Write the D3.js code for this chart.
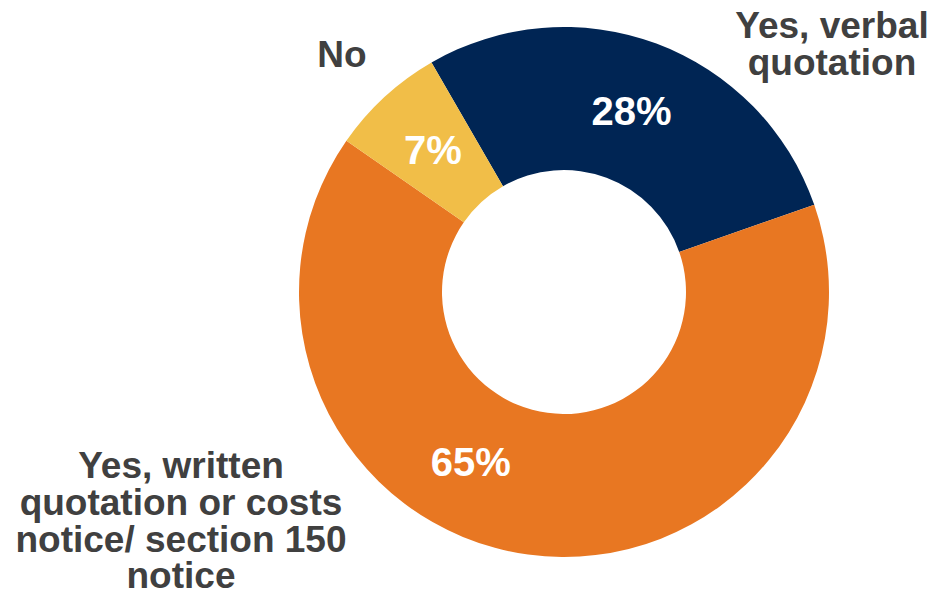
<!DOCTYPE html>
<html>
<head>
<meta charset="utf-8">
<script src="https://cdn.jsdelivr.net/npm/d3@7"></script>
<style>
  html, body { margin: 0; padding: 0; background: #ffffff; }
  svg { display: block; }
  text { font-family: "Liberation Sans", Arial, Helvetica, sans-serif; font-weight: bold; }
</style>
</head>
<body>
<svg id="chart" width="933" height="608"></svg>
<script>
// Survey answers, in drawing order (clockwise)
const categories = [
  "Yes, verbal quotation",
  "Yes, written quotation or costs notice/ section 150 notice",
  "No"
];
const shares = [28, 65, 7];
const valueLabels = ["28%", "65%", "7%"];
const colors = ["#002554", "#E87722", "#F1BE48"];

// Wrapped lines for each category name
const nameLines = [
  ["Yes, verbal", "quotation"],
  ["Yes, written", "quotation or costs", "notice/ section 150", "notice"],
  ["No"]
];

const width = 933, height = 608;
const cx = 564, cy = 292;
const outerR = 265, innerR = 122;
const deg = Math.PI / 180;

const svg = d3.select("#chart");
const g = svg.append("g").attr("transform", `translate(${cx},${cy})`);

const data = categories.map((c, i) => ({ name: c, value: shares[i], label: valueLabels[i], color: colors[i], lines: nameLines[i] }));

const pie = d3.pie()
  .sort(null)
  .value(d => d.value)
  .startAngle(-30 * deg)
  .endAngle(330 * deg);

const arc = d3.arc().innerRadius(innerR).outerRadius(outerR);
const labelArc = d3.arc().innerRadius((innerR + outerR) / 2).outerRadius((innerR + outerR) / 2);

const arcs = pie(data);

g.selectAll("path.slice")
  .data(arcs)
  .join("path")
  .attr("class", "slice")
  .attr("d", arc)
  .attr("fill", d => d.data.color);

// Percentage labels sit on the ring's mid radius; the large slice's label is turned a little
const labelTurn = [0, 21 * deg, 0];
g.selectAll("text.pct")
  .data(arcs)
  .join("text")
  .attr("class", "pct")
  .attr("transform", (d, i) => {
    const a = (d.startAngle + d.endAngle) / 2 + labelTurn[i];
    const r = (innerR + outerR) / 2;
    return `translate(${r * Math.sin(a)},${-r * Math.cos(a)})`;
  })
  .attr("text-anchor", "middle")
  .attr("dy", "0.36em")
  .attr("fill", "#ffffff")
  .attr("font-size", 40)
  .text(d => d.data.label);

// Category names placed around the ring
const namePos = [
  { x: 832, y: 38 },
  { x: 181, y: 478 },
  { x: 342, y: 67 }
];
const lineH = 36.8;
svg.selectAll("text.name")
  .data(data)
  .join("text")
  .attr("class", "name")
  .attr("text-anchor", "middle")
  .attr("fill", "#404040")
  .attr("font-size", 37)
  .each(function(d, i) {
    const t = d3.select(this);
    d.lines.forEach((ln, k) => {
      t.append("tspan")
        .attr("x", namePos[i].x)
        .attr("y", namePos[i].y + k * lineH)
        .text(ln);
    });
  });
</script>
</body>
</html>
